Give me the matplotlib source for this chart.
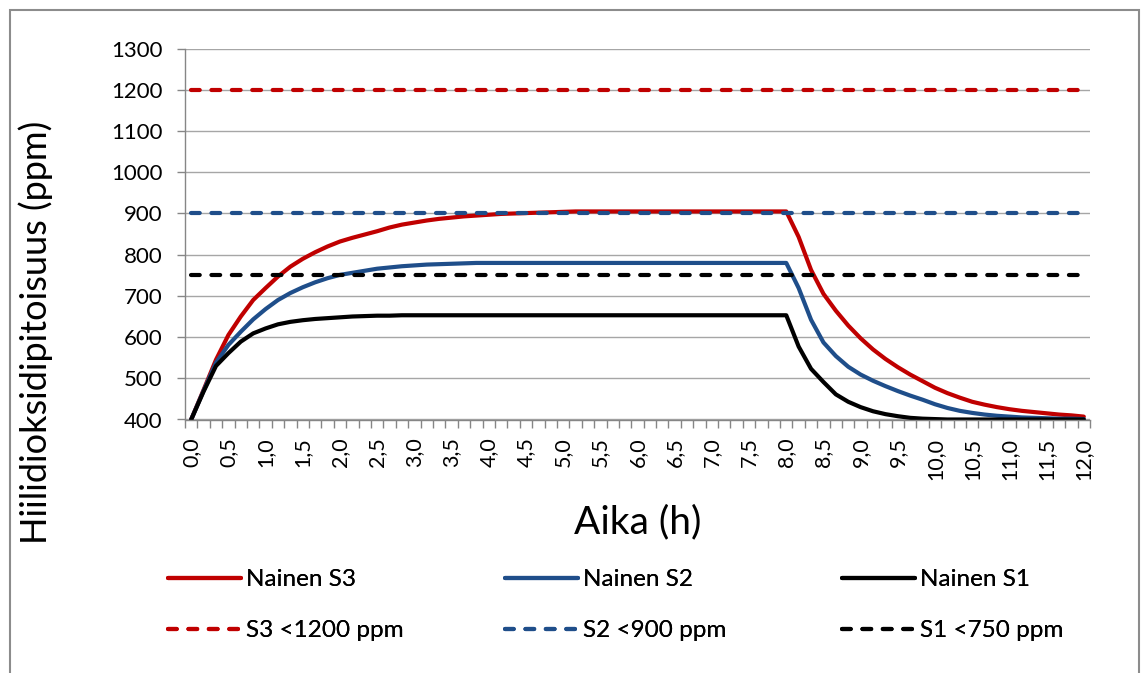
import matplotlib
matplotlib.use('Agg')
import matplotlib.pyplot as plt
from matplotlib.patches import Rectangle
import numpy as np

# CO2 concentration, one value per 10 min step from 0,0 h to 12,0 h
nainen_s3 = [400, 472, 545, 605, 650, 690, 719, 747, 771, 790,
             806, 820, 832, 841, 849, 857, 866, 873, 878, 883,
             887, 890, 893, 895, 897, 899, 900, 901, 902, 903,
             904, 905, 905, 905, 905, 905, 905, 905, 905, 905,
             905, 905, 905, 905, 905, 905, 905, 905, 905, 843,
             763, 705, 664, 628, 597, 570, 547, 527, 509, 493,
             477, 464, 453, 443, 436, 430, 425, 421, 418, 415,
             412, 410, 407]
nainen_s2 = [400, 470, 538, 581, 613, 643, 668, 690, 707, 721,
             733, 743, 751, 756, 761, 766, 769, 772, 774, 776,
             777, 778, 779, 780, 780, 780, 780, 780, 780, 780,
             780, 780, 780, 780, 780, 780, 780, 780, 780, 780,
             780, 780, 780, 780, 780, 780, 780, 780, 780, 719,
             642, 587, 554, 528, 509, 494, 481, 469, 458, 448,
             437, 428, 421, 416, 412, 409, 407, 405, 404, 403,
             402, 402, 401]
nainen_s1 = [400, 468, 530, 561, 589, 609, 621, 631, 637, 641,
             644, 646, 648, 650, 651, 652, 652, 653, 653, 653,
             653, 653, 653, 653, 653, 653, 653, 653, 653, 653,
             653, 653, 653, 653, 653, 653, 653, 653, 653, 653,
             653, 653, 653, 653, 653, 653, 653, 653, 653, 577,
             523, 491, 461, 443, 430, 420, 413, 408, 404, 402,
             401, 400, 400, 400, 400, 400, 400, 400, 400, 400,
             400, 400, 400]

limit_s3 = 1200
limit_s2 = 900
limit_s1 = 750

tick_labels = ['0,0', '0,5', '1,0', '1,5', '2,0', '2,5', '3,0', '3,5', '4,0',
               '4,5', '5,0', '5,5', '6,0', '6,5', '7,0', '7,5', '8,0', '8,5',
               '9,0', '9,5', '10,0', '10,5', '11,0', '11,5', '12,0']

RED = '#C00000'
BLUE = '#1F4E8A'
BLACK = '#000000'
GRID = '#A6A6A6'
AXIS = '#868686'

plt.rcParams['font.family'] = ['Lato', 'DejaVu Sans']

W, H = 1141, 673
fig = plt.figure(figsize=(W / 100, H / 100), dpi=100)
ax = fig.add_axes([185 / W, 1 - 419.5 / H, (1090 - 185) / W, (419.5 - 48.7) / H])

x = np.arange(len(nainen_s3))
lw = 3.0

solid = []
for values, color, label in [(nainen_s3, RED, 'Nainen S3'),
                             (nainen_s2, BLUE, 'Nainen S2'),
                             (nainen_s1, BLACK, 'Nainen S1')]:
    line, = ax.plot(x, values, color=color, lw=lw, label=label,
                    solid_joinstyle='round', solid_capstyle='round')
    solid.append(line)

dashed = []
for limit, color, label in [(limit_s3, RED, 'S3 <1200 ppm'),
                            (limit_s2, BLUE, 'S2 <900 ppm'),
                            (limit_s1, BLACK, 'S1 <750 ppm')]:
    line, = ax.plot(x, [limit] * len(x), color=color, lw=lw, label=label,
                    dashes=(2.1, 2.8), dash_capstyle='round')
    dashed.append(line)

ax.set_xlim(-0.5, len(x) - 0.5)
ax.set_ylim(400, 1300)
ax.set_yticks(range(400, 1301, 100))
ax.grid(axis='y', color=GRID, lw=1.0)
ax.set_axisbelow(True)

for side in ['top', 'right']:
    ax.spines[side].set_visible(False)
for side in ['left', 'bottom']:
    ax.spines[side].set_color(AXIS)
    ax.spines[side].set_linewidth(1.0)

ax.set_xticks(range(0, len(x), 3))
ax.set_xticklabels(tick_labels, rotation=90)
ax.set_xticks(np.arange(-0.5, len(x), 1), minor=True)
ax.tick_params(axis='x', which='major', length=0, pad=13, labelsize=15.5)
ax.tick_params(axis='x', which='minor', length=6, color=AXIS, width=1.0)
ax.tick_params(axis='y', length=6, color=AXIS, width=1.0, pad=10, labelsize=16)

fig.text(638 / W, 1 - 522 / H, 'Aika (h)', fontsize=28, ha='center', va='center')
fig.text(36 / W, 1 - 332 / H, 'Hiilidioksidipitoisuus (ppm)', fontsize=26,
         rotation=90, ha='center', va='center')

# Excel style legend: three equally wide columns
for col, left in enumerate([168, 505, 842]):
    pair = [solid[col], dashed[col]]
    leg = fig.legend(pair, [p.get_label() for p in pair], loc='upper left',
                     bbox_to_anchor=(left / W, 1 - 569 / H), frameon=False,
                     fontsize=17.5, handlelength=3.0, handletextpad=0.2,
                     labelspacing=1.25, borderpad=0, borderaxespad=0)
    fig.add_artist(leg)

fig.patches.append(Rectangle((10 / W, -0.05), (1139 - 10) / W, 1.05 - 10 / H,
                             transform=fig.transFigure, fill=False,
                             edgecolor='#8C8C8C', lw=1.5))

fig.savefig('out.png', dpi=100)
